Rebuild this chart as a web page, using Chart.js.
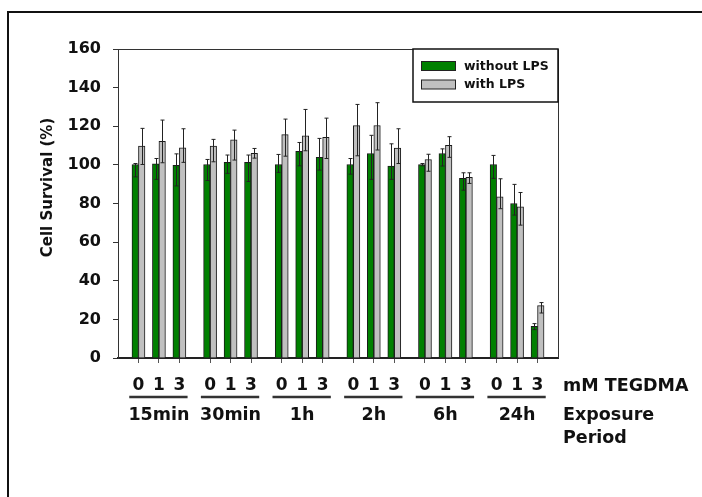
<!DOCTYPE html>
<html>
<head>
<meta charset="utf-8">
<title>Cell survival</title>
<script src="https://cdn.jsdelivr.net/npm/chart.js@4.4.1/dist/chart.umd.min.js"></script>
<style>
    html, body { margin: 0; padding: 0; background: #fff; }
    #wrap { position: relative; width: 702px; height: 497px; overflow: hidden; }
    canvas { display: block; }
</style>
</head>
<body>
<div id="wrap"><canvas id="chart" width="702" height="497"></canvas></div>
<script>
// Exposure periods and TEGDMA doses (mM)
const periods = ['15min', '30min', '1h', '2h', '6h', '24h'];
const doses = ['0', '1', '3'];

// Cell survival (%) - without LPS
const withoutLPS = [100.2, 100.6, 99.7, 100.2, 101.3, 101.3, 100.2, 107.0, 103.9, 100.2, 105.9, 99.4, 100.2, 105.9, 93.0, 100.2, 80.0, 16.4];
const withoutErrUp = [0.5, 2.7, 6.0, 2.6, 3.8, 3.8, 5.2, 4.6, 9.8, 3.1, 9.4, 11.5, 0.5, 2.4, 2.9, 4.7, 9.9, 1.4];
const withoutErrDown = [6.4, 8.1, 10.6, 8.3, 5.7, 9.9, 4.1, 7.5, 6.6, 5.0, 13.4, 6.9, 0.7, 6.5, 6.1, 7.2, 6.0, 1.7];

// Cell survival (%) - with LPS
const withLPS = [109.7, 112.2, 108.8, 109.7, 113.0, 106.0, 115.7, 115.0, 114.2, 120.3, 120.4, 108.7, 102.8, 110.1, 93.5, 83.5, 78.3, 27.1];
const withErrUp = [9.2, 11.0, 9.9, 3.5, 5.0, 2.5, 8.0, 13.7, 10.0, 11.0, 11.8, 10.0, 2.7, 4.5, 2.4, 9.3, 7.4, 1.6];
const withErrDown = [9.5, 11.1, 7.5, 8.1, 10.5, 2.5, 11.2, 7.7, 10.9, 15.6, 12.7, 8.0, 6.1, 6.2, 3.1, 6.2, 9.5, 3.8];

const yTicks = [0, 20, 40, 60, 80, 100, 120, 140, 160];

const FONT = "'DejaVu Sans', 'Verdana', sans-serif";
const groupStep = doses.length + 0.5;

// x position of every bar pair (half slot gap between periods)
const positions = [];
periods.forEach((p, g) => {
    doses.forEach((d, i) => positions.push(g * groupStep + i));
});

const errors = [
    { up: withoutErrUp, down: withoutErrDown },
    { up: withErrUp, down: withErrDown }
];

const extrasPlugin = {
    id: 'extras',
    beforeDraw(chart) {
        const ctx = chart.ctx;
        // outer frame (only left and top visible)
        ctx.save();
        ctx.strokeStyle = '#111';
        ctx.lineWidth = 2;
        ctx.beginPath();
        ctx.moveTo(8, chart.height + 5);
        ctx.lineTo(8, 12);
        ctx.lineTo(chart.width + 5, 12);
        ctx.stroke();
        ctx.restore();
    },
    afterDatasetsDraw(chart) {
        const ctx = chart.ctx;
        const yScale = chart.scales.y;
        ctx.save();
        ctx.strokeStyle = '#222';
        ctx.lineWidth = 1;
        chart.data.datasets.forEach((ds, di) => {
            const meta = chart.getDatasetMeta(di);
            meta.data.forEach((bar, i) => {
                const v = ds.data[i].y;
                const x = Math.round(bar.x) + 0.5;
                const top = yScale.getPixelForValue(v + errors[di].up[i]);
                const bottom = yScale.getPixelForValue(v - errors[di].down[i]);
                ctx.beginPath();
                ctx.moveTo(x, top);
                ctx.lineTo(x, bottom);
                ctx.moveTo(x - 2, top);
                ctx.lineTo(x + 2, top);
                ctx.moveTo(x - 2, bottom);
                ctx.lineTo(x + 2, bottom);
                ctx.stroke();
            });
        });
        ctx.restore();
    },
    afterDraw(chart) {
        const ctx = chart.ctx;
        const area = chart.chartArea;
        const xScale = chart.scales.x;
        ctx.save();

        // top and right edge of the plot box
        ctx.strokeStyle = '#333';
        ctx.lineWidth = 1;
        ctx.beginPath();
        ctx.moveTo(area.left, area.top + 0.5);
        ctx.lineTo(area.right + 0.5, area.top + 0.5);
        ctx.lineTo(area.right + 0.5, area.bottom);
        ctx.stroke();

        // legend box
        const lx = area.right - 145, ly = area.top;
        ctx.fillStyle = '#fff';
        ctx.fillRect(lx, ly, 145, 53);
        ctx.strokeStyle = '#111';
        ctx.lineWidth = 1.5;
        ctx.strokeRect(lx, ly, 145, 53);
        chart.data.datasets.forEach((ds, di) => {
            const sy = ly + 12.5 + di * 18.5;
            ctx.fillStyle = ds.backgroundColor;
            ctx.fillRect(lx + 8.5, sy, 34, 9);
            ctx.strokeStyle = '#222';
            ctx.lineWidth = 1;
            ctx.strokeRect(lx + 8.5, sy, 34, 9);
            ctx.fillStyle = '#111';
            ctx.font = 'bold 12.5px ' + FONT;
            ctx.textAlign = 'left';
            ctx.textBaseline = 'middle';
            ctx.fillText(ds.label, lx + 51, sy + 5);
        });

        // period labels and underlines
        ctx.fillStyle = '#111';
        ctx.font = 'bold 17.5px ' + FONT;
        ctx.textAlign = 'center';
        ctx.textBaseline = 'middle';
        periods.forEach((p, g) => {
            const first = g * groupStep;
            const last = first + doses.length - 1;
            const x0 = xScale.getPixelForValue(first - 0.45);
            const x1 = xScale.getPixelForValue(last + 0.4);
            ctx.strokeStyle = '#333';
            ctx.lineWidth = 2.5;
            ctx.beginPath();
            ctx.moveTo(x0, area.bottom + 39);
            ctx.lineTo(x1, area.bottom + 39);
            ctx.stroke();
            ctx.fillText(p, xScale.getPixelForValue(first + 1), area.bottom + 57);
        });

        ctx.textAlign = 'left';
        ctx.fillText('mM TEGDMA', area.right + 5, area.bottom + 28);
        ctx.fillText('Exposure', area.right + 5, area.bottom + 57);
        ctx.fillText('Period', area.right + 5, area.bottom + 80);

        // y axis title
        ctx.translate(area.left - 70, area.top + 138.5);
        ctx.rotate(-Math.PI / 2);
        ctx.textAlign = 'center';
        ctx.font = 'bold 15px ' + FONT;
        ctx.fillText('Cell Survival (%)', 0, 0);
        ctx.restore();
    }
};

const ctx = document.getElementById('chart').getContext('2d');
const chart = new Chart(ctx, {
    type: 'bar',
    data: {
        datasets: [{
            label: 'without LPS',
            data: withoutLPS.map((v, i) => ({ x: positions[i], y: v })),
            backgroundColor: '#008000',
            borderColor: '#1a1a1a',
            borderWidth: 1
        }, {
            label: 'with LPS',
            data: withLPS.map((v, i) => ({ x: positions[i], y: v })),
            backgroundColor: '#c0c0c0',
            borderColor: '#1a1a1a',
            borderWidth: 1
        }]
    },
    options: {
        responsive: false,
        animation: false,
        barThickness: 6.5,
        layout: { padding: { top: 49, right: 144, left: 0, bottom: 0 } },
        plugins: {
            legend: { display: false },
            tooltip: { enabled: false }
        },
        scales: {
            x: {
                type: 'linear',
                min: -1,
                max: 20.5,
                offset: false,
                afterBuildTicks: (scale) => {
                    scale.ticks = positions.map(v => ({ value: v }));
                },
                afterFit: (scale) => { scale.height = 139; },
                ticks: {
                    autoSkip: false,
                    maxRotation: 0,
                    padding: 12,
                    color: '#111',
                    font: { family: FONT, size: 17, weight: 'bold' },
                    callback: (value, index) => doses[index % doses.length]
                },
                grid: {
                    offset: false,
                    drawOnChartArea: false,
                    tickLength: 5,
                    tickColor: '#555'
                },
                border: { color: '#222', width: 2 }
            },
            y: {
                min: 0,
                max: 160,
                afterBuildTicks: (scale) => {
                    scale.ticks = yTicks.map(v => ({ value: v }));
                },
                afterFit: (scale) => { scale.width = 118; },
                ticks: {
                    padding: 12,
                    color: '#111',
                    font: { family: FONT, size: 16, weight: 'bold' }
                },
                grid: {
                    drawOnChartArea: false,
                    tickLength: 5,
                    tickColor: '#333'
                },
                border: { color: '#333', width: 1 }
            }
        }
    },
    plugins: [extrasPlugin]
});
</script>
</body>
</html>
